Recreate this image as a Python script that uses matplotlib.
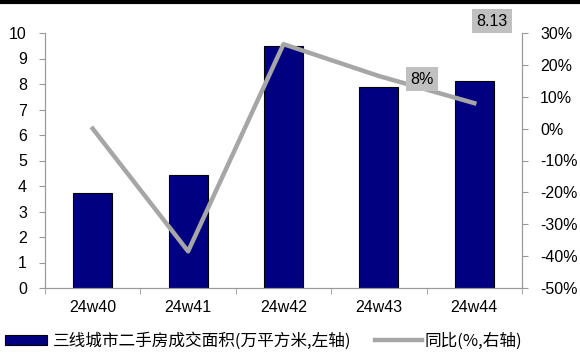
import matplotlib
matplotlib.use("Agg")
import matplotlib.pyplot as plt
from matplotlib.lines import Line2D
from matplotlib.patches import Patch

plt.rcParams['font.family'] = ['Liberation Sans', 'Noto Sans CJK SC', 'DejaVu Sans']

weeks = ["24w40", "24w41", "24w42", "24w43", "24w44"]
area = [3.74, 4.45, 9.48, 7.90, 8.13]
yoy = [0.0, -38.5, 26.5, 16.5, 8.0]

fig = plt.figure(figsize=(5.8, 3.55), dpi=100)
ax = fig.add_axes([45 / 580, 1 - 288 / 355, 477 / 580, 255 / 355])
ax2 = ax.twinx()

x = list(range(len(weeks)))
ax.bar(x, area, width=0.41, color="#000080", edgecolor="black", linewidth=0.8, zorder=2)
ax.set_xlim(-0.5, len(weeks) - 0.5)
ax.set_ylim(0, 10)
ax.set_yticks(range(0, 11))
ax.set_xticks(x)
ax.set_xticklabels(weeks)
ax.set_xticks([i - 0.5 for i in range(len(weeks) + 1)], minor=True)
ax.tick_params(axis="x", which="major", length=0, pad=9, labelsize=11.5)
ax.tick_params(axis="x", which="minor", length=4, color="#999999")
ax.tick_params(axis="y", length=4, color="#999999", labelsize=11.5, pad=9)

ax2.plot(x, yoy, color="#a6a6a6", linewidth=3.2, zorder=3)
ax2.set_ylim(-50, 30)
ax2.set_yticks(range(-50, 31, 10))
ax2.set_yticklabels([f"{v}%" for v in range(-50, 31, 10)])
ax2.tick_params(axis="y", length=4, color="#999999", labelsize=11.5, pad=9)

for a in (ax, ax2):
    a.spines["top"].set_visible(False)
    for side in ("left", "right", "bottom"):
        a.spines[side].set_color("#999999")

# value labels
ax.annotate(f"{area[-1]:.2f}", xy=(x[-1], area[-1]), xytext=(492 / 580, 1 - 21 / 355),
            textcoords="figure fraction", ha="center", va="center", fontsize=11.5,
            bbox=dict(boxstyle="square,pad=0.3", fc="#c0c0c0", ec="none"), annotation_clip=False)
ax2.annotate(f"{yoy[-1]:.0f}%", xy=(x[-1], yoy[-1]), xytext=(422 / 580, 1 - 79 / 355),
             textcoords="figure fraction", ha="center", va="center", fontsize=11.5,
             bbox=dict(boxstyle="square,pad=0.3", fc="#c0c0c0", ec="none"), annotation_clip=False)

# heavy rule along the top edge
fig.add_artist(Line2D([0, 1], [1 - 1.5 / 355, 1 - 1.5 / 355], transform=fig.transFigure,
                      color="black", linewidth=3))

legend_font = {'family': ['Noto Sans CJK SC', 'DejaVu Sans'], 'size': 12}
leg1 = fig.legend([Patch(facecolor="#000080", edgecolor="black", linewidth=0.8)],
                  ["三线城市二手房成交面积(万平方米,左轴)"],
                  loc="center left", bbox_to_anchor=(5 / 580, 1 - 341 / 355),
                  frameon=False, borderpad=0, borderaxespad=0,
                  handlelength=2.5, handleheight=0.5, handletextpad=0.35, prop=legend_font)
leg2 = fig.legend([Line2D([], [], color="#a6a6a6", linewidth=3.2)],
                  ["同比(%,右轴)"],
                  loc="center left", bbox_to_anchor=(375 / 580, 1 - 341 / 355),
                  frameon=False, borderpad=0, borderaxespad=0,
                  handlelength=2.8, handletextpad=0.2, prop=legend_font)

fig.savefig("out.png", dpi=100)
